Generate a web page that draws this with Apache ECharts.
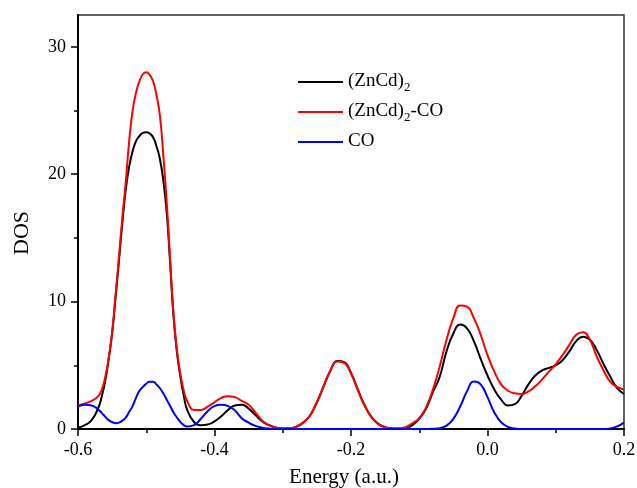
<!DOCTYPE html>
<html>
<head>
<meta charset="utf-8">
<script src="https://cdn.jsdelivr.net/npm/echarts@6/dist/echarts.min.js"></script>
<style>html,body{margin:0;padding:0;background:#fff;}#c{width:637px;height:488px;}</style>
</head>
<body>
<div id="c"></div>
<script>
const energy = [-0.60,-0.59,-0.58,-0.57,
  -0.565,-0.56,-0.555,-0.55,-0.545,-0.54,-0.535,-0.53,-0.525,-0.52,-0.515,-0.51,-0.505,-0.50,
  -0.495,-0.49,-0.485,-0.48,-0.475,-0.47,-0.465,-0.46,-0.455,-0.45,-0.445,-0.44,
  -0.43,-0.42,-0.41,
  -0.40,-0.39,-0.38,-0.37,-0.36,-0.35,-0.34,-0.33,-0.32,-0.31,-0.30,-0.29,-0.28,-0.27,-0.26,-0.25,-0.24,-0.23,-0.22,-0.21,
  -0.20,-0.19,-0.18,-0.17,-0.16,-0.15,-0.14,-0.13,-0.12,-0.11,-0.10,-0.09,-0.08,-0.07,-0.06,-0.05,-0.04,-0.03,-0.02,-0.01,
  0.00,0.01,0.02,0.03,0.04,0.05,0.06,0.07,0.08,0.09,0.10,0.11,0.12,0.13,0.14,0.15,0.16,0.17,0.18,0.19,0.20];

const dosZnCd2 = [0.1,0.3,0.7,1.7,
  2.6,3.8,5.5,7.5,10.3,13.2,16.2,18.8,20.6,21.8,22.6,23.0,23.25,23.3,
  23.2,22.9,22.2,21.2,19.5,17.0,13.0,8.8,6.0,4.1,2.6,1.5,
  0.55,0.3,0.35,
  0.6,1.0,1.5,1.85,1.9,1.6,1.1,0.6,0.3,0.1,0.03,0.05,0.19,0.5,1.06,2.1,3.36,4.6,5.33,5.24,
  4.4,3.1,1.86,0.95,0.4,0.15,0.04,0.01,0.05,0.3,0.8,1.6,2.9,4.1,6.1,7.5,8.2,7.9,6.9,5.5,
  4.2,3.1,2.3,1.85,1.95,2.6,3.5,4.2,4.6,4.8,5.0,5.4,6.1,6.9,7.25,7.0,6.2,5.1,4.1,3.2,2.75];

const dosZnCd2CO = [1.85,2.0,2.2,2.6,
  3.1,4.1,5.6,7.6,10.5,13.5,16.6,19.4,22.6,25.0,26.4,27.3,27.85,28.0,
  27.8,27.3,26.2,24.6,21.5,17.8,13.3,9.0,6.2,4.3,3.0,2.2,
  1.5,1.5,1.75,
  2.1,2.45,2.58,2.5,2.2,1.9,1.3,0.65,0.3,0.1,0.03,0.05,0.19,0.5,1.06,2.1,3.36,4.6,5.3,5.2,
  4.35,3.05,1.82,0.92,0.38,0.14,0.04,0.05,0.15,0.45,0.85,1.7,3.1,4.9,7.0,8.7,9.7,9.6,8.7,7.4,
  5.8,4.5,3.5,3.0,2.8,2.75,2.95,3.35,3.9,4.5,5.1,5.8,6.6,7.4,7.6,7.0,5.7,4.6,3.7,3.3,3.1];

const dosCO = [1.75,1.9,1.85,1.5,
  1.25,0.95,0.7,0.55,0.45,0.5,0.65,0.9,1.35,1.8,2.45,3.0,3.3,3.55,
  3.7,3.7,3.5,3.2,2.8,2.3,1.8,1.3,0.9,0.55,0.3,0.2,
  0.3,0.8,1.4,
  1.8,1.9,1.8,1.45,0.85,0.5,0.25,0.1,0.03,0,0,0,0,0,0,0,0,0,0,0,
  0,0,0,0,0,0,0,0,0,0,0,0,0.02,0.07,0.27,0.8,1.77,2.96,3.72,3.5,
  2.5,1.3,0.53,0.17,0.04,0,0,0,0,0,0,0,0,0,0,0,0,0,0.05,0.2,0.5];

const xMajorTicks = [-0.6,-0.4,-0.2,0.0,0.2];
const xMinorTicks = [-0.5,-0.3,-0.1,0.1];
const yMajorTicks = [0,10,20,30];
const yMinorTicks = [5,15,25];

const pairs = arr => energy.map((e,i)=>[e,arr[i]]);
const FONT = '"Liberation Serif", "Times New Roman", serif';

const chart = echarts.init(document.getElementById('c'), null, {renderer:'canvas'});
const xBase = {type:'value', min:-0.6, max:0.2, splitLine:{show:false}};
const yBase = {type:'value', min:0, max:32.5, splitLine:{show:false}};
chart.setOption({
  backgroundColor:'#fff',
  animation:false,
  textStyle:{fontFamily:FONT},
  grid:{left:78, right:13, top:15, bottom:59, show:true, borderColor:'#333', borderWidth:1.5,
        containLabel:false, outerBoundsMode:'none'},
  legend:{
    orient:'vertical', left:293, top:67, itemWidth:45, itemHeight:14, itemGap:7,
    icon:'path://M0,6 L45,6 L45,8 L0,8 Z',
    textStyle:{color:'#000', fontFamily:FONT, fontSize:19,
      rich:{a:{fontSize:19, fontFamily:FONT, color:'#000', lineHeight:20, verticalAlign:'top', padding:[0,0,3,0]},
            s:{fontSize:13, fontFamily:FONT, color:'#000', lineHeight:13, verticalAlign:'top', padding:[9.5,0,0.5,0]}}},
    formatter: function(name){
      if(name==='(ZnCd)2') return '{a|(ZnCd)}{s|2}';
      if(name==='(ZnCd)2-CO') return '{a|(ZnCd)}{s|2}{a|-CO}';
      return '{a|' + name + '}';
    },
    data:['(ZnCd)2','(ZnCd)2-CO','CO']
  },
  xAxis:[
    Object.assign({}, xBase, {
      name:'Energy (a.u.)', nameLocation:'middle', nameGap:38,
      nameTextStyle:{fontSize:21, color:'#000', fontFamily:FONT, padding:[0,14,0,0]},
      axisLine:{onZero:false, lineStyle:{color:'#000', width:2}},
      axisTick:{show:true, inside:false, length:7, lineStyle:{color:'#000', width:1.5}, customValues:xMajorTicks},
      axisLabel:{color:'#000', fontSize:18, fontFamily:FONT, margin:12, customValues:xMajorTicks,
        formatter:v=>v.toFixed(1)}
    }),
    Object.assign({}, xBase, {
      position:'bottom', axisLine:{show:false, onZero:false},
      axisTick:{show:true, inside:false, length:4, lineStyle:{color:'#000', width:1.5}, customValues:xMinorTicks},
      axisLabel:{show:false}
    })
  ],
  yAxis:[
    Object.assign({}, yBase, {
      name:'DOS', nameLocation:'middle', nameGap:45,
      nameTextStyle:{fontSize:22, color:'#000', fontFamily:FONT, padding:[0,22,0,0]},
      axisLine:{show:true, onZero:false, lineStyle:{color:'#000', width:2}},
      axisTick:{show:true, inside:false, length:7, lineStyle:{color:'#000', width:1.5}, customValues:yMajorTicks},
      axisLabel:{color:'#000', fontSize:18, fontFamily:FONT, margin:12, customValues:yMajorTicks}
    }),
    Object.assign({}, yBase, {
      position:'left', axisLine:{show:false, onZero:false},
      axisTick:{show:true, inside:false, length:4, lineStyle:{color:'#000', width:1.5}, customValues:yMinorTicks},
      axisLabel:{show:false}
    })
  ],
  series:[
    {name:'(ZnCd)2', type:'line', data:pairs(dosZnCd2), smooth:0.5, showSymbol:false, symbol:'none', clip:false,
      lineStyle:{color:'#000', width:2}, itemStyle:{color:'#000'}, z:2},
    {name:'(ZnCd)2-CO', type:'line', data:pairs(dosZnCd2CO), smooth:0.5, showSymbol:false, symbol:'none', clip:false,
      lineStyle:{color:'#ff0000', width:2}, itemStyle:{color:'#ff0000'}, z:3},
    {name:'CO', type:'line', data:pairs(dosCO), smooth:0.5, showSymbol:false, symbol:'none', clip:false,
      lineStyle:{color:'#0000ff', width:2}, itemStyle:{color:'#0000ff'}, z:4}
  ]
});
</script>
</body>
</html>
